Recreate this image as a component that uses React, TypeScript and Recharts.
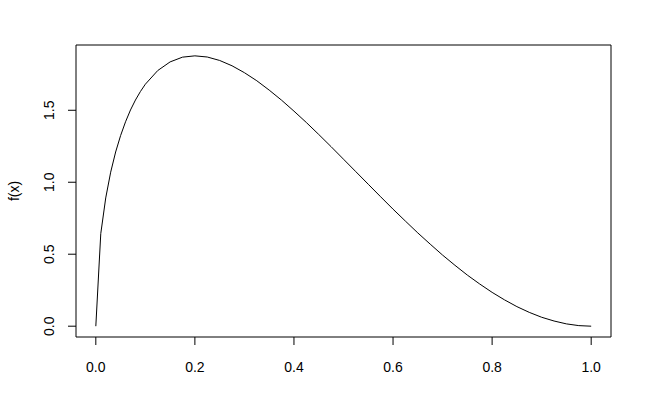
import React from "react";
import { LineChart, Line, XAxis, YAxis, ReferenceArea } from "recharts";

// density curve
const xValues = [
  0, 0.01, 0.02, 0.03, 0.04, 0.05, 0.06, 0.07, 0.08, 0.09, 0.1,
  0.125, 0.15, 0.175, 0.2, 0.225, 0.25, 0.275, 0.3, 0.325, 0.35, 0.375,
  0.4, 0.425, 0.45, 0.475, 0.5, 0.525, 0.55, 0.575, 0.6, 0.625, 0.65,
  0.675, 0.7, 0.725, 0.75, 0.775, 0.8, 0.825, 0.85, 0.875, 0.9, 0.925,
  0.95, 0.975, 1,
];
const yValues = [
  0, 0.643, 0.891, 1.07, 1.21, 1.324, 1.42, 1.502, 1.571, 1.63, 1.681,
  1.776, 1.836, 1.869, 1.878, 1.87, 1.846, 1.809, 1.761, 1.705, 1.64, 1.57,
  1.494, 1.415, 1.332, 1.247, 1.16, 1.073, 0.986, 0.899, 0.813, 0.73, 0.648,
  0.57, 0.494, 0.423, 0.355, 0.293, 0.235, 0.183, 0.136, 0.096, 0.062, 0.036,
  0.016, 0.004, 0,
];
const xTicks = [0, 0.2, 0.4, 0.6, 0.8, 1.0];
const yTicks = [0, 0.5, 1.0, 1.5];

const X_MIN = -0.04;
const X_MAX = 1.04;
const Y_MIN = -0.0751;
const Y_MAX = 1.9534;

const FONT = "'Liberation Sans', Arial, Helvetica, sans-serif";

const data = xValues.map((x, i) => ({ x, y: yValues[i] }));

function YTick(props: any) {
  const { y, payload } = props;
  const cx = 54;
  return (
    <text
      x={cx}
      y={y}
      transform={`rotate(-90, ${cx}, ${y})`}
      textAnchor="middle"
      fontSize={14}
      fontFamily={FONT}
      fill="#000"
    >
      {payload.value.toFixed(1)}
    </text>
  );
}

export default function App() {
  return (
    <div style={{ position: "absolute", left: 0, top: 0, background: "#fff" }}>
      <LineChart
        width={650}
        height={400}
        data={data}
        margin={{ top: 45, right: 39, bottom: 0, left: 0 }}
      >
        <XAxis
          dataKey="x"
          type="number"
          domain={[X_MIN, X_MAX]}
          ticks={xTicks}
          allowDataOverflow
          height={63}
          axisLine={false}
          tickLine={{ stroke: "#000" }}
          tickSize={8}
          tickMargin={17}
          tickFormatter={(v: number) => v.toFixed(1)}
          tick={{ fill: "#000", fontSize: 14, fontFamily: FONT }}
        />
        <YAxis
          type="number"
          domain={[Y_MIN, Y_MAX]}
          ticks={yTicks}
          allowDataOverflow
          width={76}
          axisLine={false}
          tickLine={{ stroke: "#000" }}
          tickSize={8}
          tick={<YTick />}
        />
        <ReferenceArea
          x1={X_MIN}
          x2={X_MAX}
          y1={Y_MIN}
          y2={Y_MAX}
          fill="none"
          stroke="#000"
          strokeWidth={1}
          ifOverflow="visible"
        />
        <Line
          dataKey="y"
          type="linear"
          stroke="#000"
          strokeWidth={1}
          dot={false}
          isAnimationActive={false}
        />
        <text
          x={19}
          y={191}
          transform="rotate(-90, 19, 191)"
          textAnchor="middle"
          fontSize={14}
          fontFamily={FONT}
          fill="#000"
        >
          f(x)
        </text>
      </LineChart>
    </div>
  );
}
